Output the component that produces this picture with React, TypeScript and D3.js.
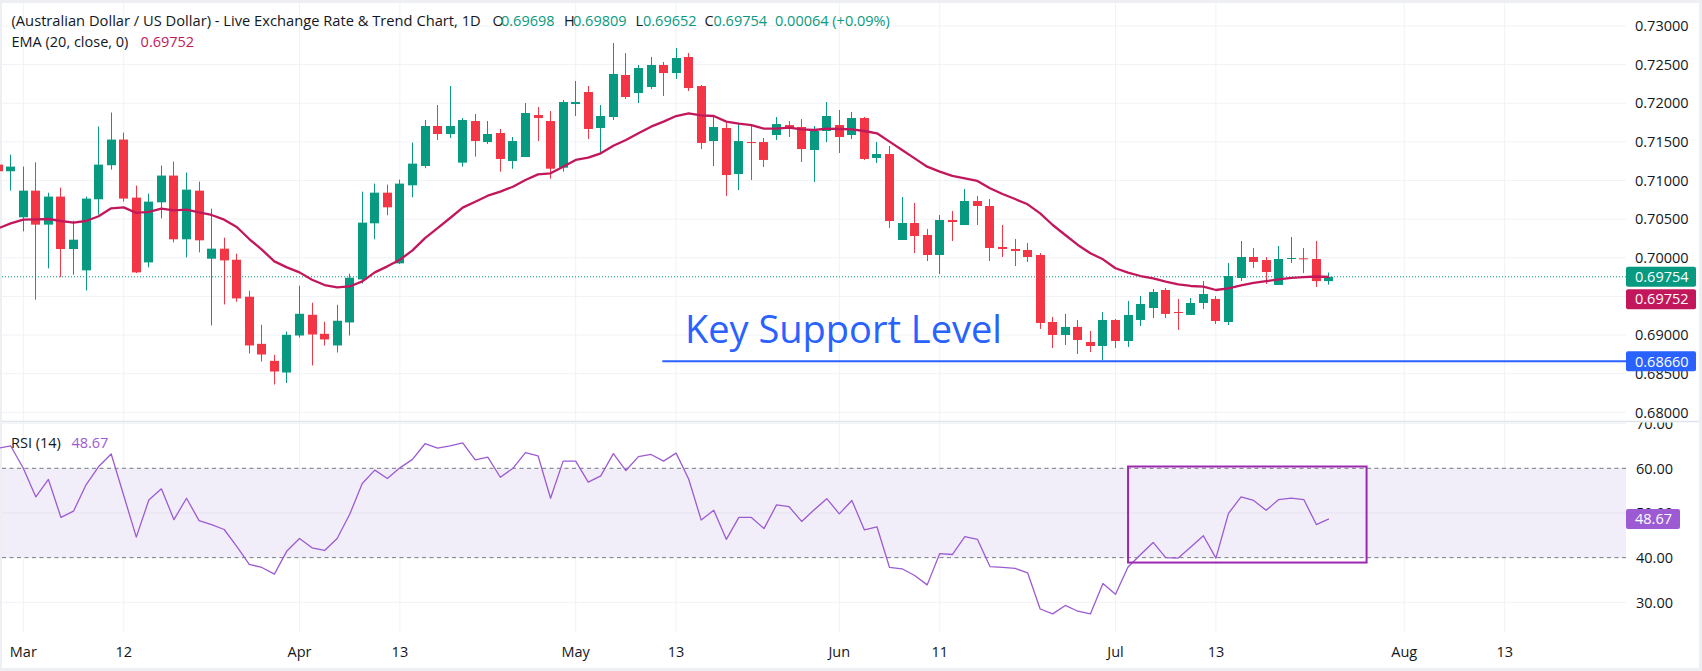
import React from 'react';
import * as d3 from 'd3';

// ---- Data (trading-day index 0 = Mar 2; first bar is index -2) ----
const START_INDEX = -2;

const opens = [
  0.71206, 0.7112, 0.70524, 0.70869, 0.70429, 0.70792, 0.70113, 0.69837, 0.70757, 0.71198,
  0.7153, 0.70779, 0.6994, 0.70718, 0.71064, 0.70239, 0.70869, 0.69988, 0.70118, 0.69975,
  0.69496, 0.68886, 0.68666, 0.68515, 0.68994, 0.69262, 0.69016, 0.68865, 0.69163, 0.6972,
  0.70446, 0.70843, 0.69928, 0.70938, 0.71188, 0.71706, 0.71602, 0.71231, 0.7177, 0.71498,
  0.71615, 0.71253, 0.71304, 0.71848, 0.7177, 0.71166, 0.7199, 0.72146, 0.7168, 0.71822,
  0.72366, 0.72133, 0.7221, 0.72495, 0.72391, 0.72599, 0.72223, 0.71511, 0.7168, 0.71084,
  0.71498, 0.71498, 0.71589, 0.71718, 0.71693, 0.71395, 0.71641, 0.71718, 0.71589, 0.71809,
  0.71292, 0.71343, 0.7023, 0.7045, 0.70295, 0.70036, 0.70489, 0.70424, 0.70735, 0.7067,
  0.7014, 0.70114, 0.70101, 0.70036, 0.69169, 0.69001, 0.69105, 0.6891, 0.68858, 0.69195,
  0.68923, 0.69195, 0.6935, 0.69583, 0.69298, 0.6926, 0.69415, 0.69467, 0.69169, 0.69738,
  0.7001, 0.69971, 0.69648, 0.69984, 0.69993, 0.69984, 0.69698,
];
const highs = [
  0.7125, 0.71336, 0.7118, 0.71236, 0.70843, 0.70908, 0.7048, 0.70792, 0.71699, 0.7188,
  0.71621, 0.70934, 0.7083, 0.71193, 0.71245, 0.71103, 0.70986, 0.70636, 0.7026, 0.70053,
  0.69573, 0.69133, 0.68744, 0.69046, 0.69638, 0.69418, 0.69172, 0.69392, 0.69794, 0.70856,
  0.7096, 0.70947, 0.71012, 0.71491, 0.71783, 0.71977, 0.72223, 0.71809, 0.71861, 0.7177,
  0.71667, 0.71563, 0.72003, 0.71951, 0.719, 0.72042, 0.72288, 0.72223, 0.71977, 0.7278,
  0.7265, 0.72495, 0.72599, 0.72534, 0.72715, 0.7265, 0.72236, 0.71848, 0.71744, 0.71744,
  0.71706, 0.7155, 0.71822, 0.7177, 0.71796, 0.71706, 0.72016, 0.71913, 0.71887, 0.71822,
  0.71499, 0.71447, 0.70787, 0.70709, 0.70373, 0.70554, 0.70606, 0.7089, 0.708, 0.70761,
  0.70424, 0.70243, 0.70191, 0.70062, 0.69234, 0.69273, 0.69195, 0.69053, 0.69298, 0.69208,
  0.69441, 0.69505, 0.69596, 0.69609, 0.69467, 0.6948, 0.697, 0.69505, 0.69933, 0.70217,
  0.70127, 0.7001, 0.70153, 0.70269, 0.70127, 0.70217, 0.69809,
];
const lows = [
  0.711, 0.70869, 0.70342, 0.69457, 0.69863, 0.6975, 0.69781, 0.69578, 0.70558, 0.71141,
  0.70727, 0.69802, 0.69876, 0.70511, 0.702, 0.70005, 0.7007, 0.69124, 0.69396, 0.69431,
  0.68761, 0.68657, 0.6836, 0.6838, 0.68968, 0.68606, 0.68865, 0.68774, 0.68994, 0.69668,
  0.70239, 0.7055, 0.69919, 0.70783, 0.7116, 0.71524, 0.7155, 0.71179, 0.71309, 0.71473,
  0.71115, 0.71153, 0.71304, 0.71511, 0.71024, 0.71115, 0.71835, 0.71537, 0.71352, 0.71783,
  0.72055, 0.72003, 0.72184, 0.72094, 0.72314, 0.72159, 0.71407, 0.71188, 0.708, 0.70877,
  0.71007, 0.71175, 0.71524, 0.71563, 0.7124, 0.70981, 0.71498, 0.71356, 0.71537, 0.71266,
  0.71227, 0.70386, 0.7023, 0.70062, 0.69958, 0.6979, 0.70217, 0.70424, 0.70424, 0.69958,
  0.7001, 0.69894, 0.69946, 0.69079, 0.68832, 0.68871, 0.68755, 0.68781, 0.68677, 0.68832,
  0.68845, 0.69117, 0.69221, 0.69221, 0.69066, 0.6926, 0.69337, 0.69143, 0.6913, 0.697,
  0.69868, 0.69661, 0.69648, 0.69933, 0.69803, 0.69622, 0.69652,
];
const closes = [
  0.7112, 0.7118, 0.70869, 0.70429, 0.70792, 0.70113, 0.70234, 0.70766, 0.71206, 0.7153,
  0.70766, 0.69811, 0.70727, 0.71064, 0.70239, 0.70882, 0.70226, 0.70118, 0.69966, 0.69474,
  0.68865, 0.68748, 0.68528, 0.69003, 0.69275, 0.69007, 0.68943, 0.69185, 0.69742, 0.70455,
  0.70843, 0.70653, 0.7096, 0.71219, 0.71706, 0.71602, 0.71706, 0.71783, 0.71511, 0.71602,
  0.71279, 0.71511, 0.71874, 0.71809, 0.71153, 0.72016, 0.72016, 0.71667, 0.71835, 0.72379,
  0.72081, 0.72456, 0.72495, 0.72391, 0.72586, 0.72197, 0.71486, 0.71693, 0.71071, 0.71511,
  0.71486, 0.71266, 0.71731, 0.7168, 0.71407, 0.71641, 0.71835, 0.71563, 0.71809, 0.71279,
  0.71343, 0.70476, 0.7045, 0.70282, 0.70036, 0.70489, 0.70463, 0.70735, 0.7067, 0.70127,
  0.70114, 0.70088, 0.7001, 0.69156, 0.69001, 0.69105, 0.68936, 0.68858, 0.69195, 0.68923,
  0.6926, 0.69402, 0.69557, 0.69273, 0.69285, 0.69415, 0.69531, 0.69182, 0.69764, 0.7001,
  0.69946, 0.69816, 0.69984, 0.69997, 0.69984, 0.69698, 0.69754,
];
const ema20 = [
  0.70381, 0.70446, 0.70493, 0.70498, 0.70502, 0.70476, 0.70455, 0.70476, 0.70537, 0.7064,
  0.70653, 0.7058, 0.70593, 0.70636, 0.70614, 0.70623, 0.70588, 0.70554, 0.70493, 0.70398,
  0.70243, 0.70105, 0.69953, 0.69876, 0.69811, 0.69716, 0.69647, 0.69616, 0.69629, 0.69694,
  0.69811, 0.69889, 0.69975, 0.70096, 0.70254, 0.70383, 0.70515, 0.70649, 0.70726, 0.70804,
  0.70856, 0.7092, 0.71007, 0.7108, 0.71093, 0.71179, 0.71266, 0.71296, 0.71352, 0.71451,
  0.71524, 0.71611, 0.71697, 0.71762, 0.71835, 0.7187, 0.71844, 0.71835, 0.71762, 0.71736,
  0.71718, 0.71671, 0.71671, 0.71684, 0.71662, 0.71654, 0.71671, 0.71667, 0.71662, 0.71641,
  0.71611, 0.71503, 0.71395, 0.71287, 0.71179, 0.71115, 0.71059, 0.71028, 0.70994, 0.70899,
  0.70826, 0.70761, 0.70692, 0.70575, 0.70424, 0.70295, 0.70166, 0.70058, 0.6998, 0.69864,
  0.69807, 0.69764, 0.69734, 0.69691, 0.69656, 0.69635, 0.69626, 0.69583, 0.69603, 0.69643,
  0.69675, 0.69697, 0.6972, 0.6974, 0.6975, 0.69758, 0.69752,
];
const rsi14 = [
  64.5, 65.0, 60.0, 53.6, 57.5, 49.0, 50.4, 56.3, 60.4, 63.2,
  53.9, 44.6, 52.9, 55.4, 48.5, 53.3, 48.3, 47.4, 46.3, 42.5,
  38.5, 37.8, 36.3, 41.5, 44.3, 42.2, 41.6, 44.3, 49.7, 56.6,
  59.6, 57.7, 60.1, 62.0, 65.5, 64.5, 65.0, 65.7, 61.9, 62.5,
  58.0, 60.0, 63.5, 62.8, 53.3, 61.6, 61.6, 56.9, 58.3, 63.3,
  59.5, 62.6, 63.1, 61.6, 63.4, 57.6, 48.4, 50.6, 44.1, 49.0,
  49.0, 46.5, 51.8, 51.4, 48.1, 50.7, 53.2, 49.8, 52.8, 46.2,
  46.9, 37.8, 37.5, 36.0, 33.9, 40.9, 40.7, 44.7, 44.1, 38.0,
  37.8, 37.6, 36.6, 28.5, 27.4, 29.3, 28.0, 27.4, 34.2, 31.8,
  37.9, 40.7, 43.4, 40.0, 39.9, 42.4, 44.9, 39.9, 49.9, 53.6,
  52.8, 50.6, 53.0, 53.3, 53.0, 47.4, 48.67,
];

const timeTickIndex = [0, 8, 22, 30, 44, 52, 65, 73, 87, 95, 110, 118];
const timeTickLabels = ['Mar', '12', 'Apr', '13', 'May', '13', 'Jun', '11', 'Jul', '13', 'Aug', '13'];
const priceTicks = [0.68, 0.685, 0.69, 0.695, 0.7, 0.705, 0.71, 0.715, 0.72, 0.725, 0.73];
const priceTickLabels = ['0.68000', '0.68500', '0.69000', '0.69500', '0.70000', '0.70500', '0.71000', '0.71500', '0.72000', '0.72500', '0.73000'];
const rsiTicks = [30, 40, 50, 60, 70];
const rsiTickLabels = ['30.00', '40.00', '50.00', '60.00', '70.00'];

const SUPPORT_LEVEL = 0.6866;
const SUPPORT_START_INDEX = 50.9;
const SUPPORT_TEXT_INDEX = 52.7;
const SUPPORT_TEXT_PRICE = 0.6890;
const RSI_BOX = { fromIndex: 88, toIndex: 107, top: 60.4, bottom: 38.9 };

const LAST = { open: '0.69698', high: '0.69809', low: '0.69652', close: '0.69754', change: '0.00064 (+0.09%)' };
const LAST_EMA = 0.69752;
const LAST_RSI = 48.67;

const FONT = "'Open Sans', 'Liberation Sans', sans-serif";
const GREEN = '#089981';
const RED = '#F23645';
const EMA_COLOR = '#C2185B';
const RSI_COLOR = '#9C5BD2';
const TEXT = '#131722';
const GRID = '#F0F2F5';

export default function App() {
  const W = 1702;
  const H = 671;
  const plotRight = 1626;
  const priceTop = 3;
  const priceBottom = 421;
  const rsiTop = 422.5;
  const rsiBottom = 632;

  const x = d3.scaleLinear().domain([0, 118]).range([23.3, 23.3 + 118 * 12.554]);
  const y = d3.scaleLinear().domain([0.68, 0.73]).range([412.3, 26]);
  const yr = d3.scaleLinear().domain([30, 60]).range([602.3, 468.3]);
  const idx = (i: number) => START_INDEX + i;

  const emaPath = d3.line<number>().x((_, i) => x(idx(i))).y((d) => y(d))(ema20) || '';
  const rsiPath = d3.line<number>().x((_, i) => x(idx(i))).y((d) => yr(d))(rsi14) || '';

  const fs = 14.5;
  const lastY = y(parseFloat(LAST.close));
  const emaLabelY = lastY + 22.5;
  const supY = y(SUPPORT_LEVEL);
  const rsiLabelY = yr(LAST_RSI);

  return (
    <div style={{ position: 'fixed', left: 0, top: 0, width: W, height: H }}>
      <svg width={W} height={H} style={{ display: 'block' }} fontFamily={FONT}>
        <defs>
          <clipPath id="pricePane">
            <rect x={0} y={priceTop} width={plotRight} height={priceBottom - priceTop} />
          </clipPath>
          <clipPath id="rsiPane">
            <rect x={0} y={rsiTop} width={plotRight} height={rsiBottom - rsiTop} />
          </clipPath>
          <clipPath id="rsiAxis">
            <rect x={plotRight} y={rsiTop} width={80} height={rsiBottom - rsiTop} />
          </clipPath>
        </defs>
        <rect x={0} y={0} width={W} height={H} fill="#EDEFF3" />
        <rect x={2} y={3} width={1697} height={665} fill="#FFFFFF" />

        {/* vertical grid */}
        {timeTickIndex.map((t, k) => (
          <g key={'vg' + k}>
            <line x1={x(t)} x2={x(t)} y1={priceTop} y2={priceBottom} stroke={GRID} strokeWidth={1} />
            <line x1={x(t)} x2={x(t)} y1={rsiTop} y2={rsiBottom} stroke={GRID} strokeWidth={1} />
          </g>
        ))}
        {/* horizontal price grid */}
        {priceTicks.map((p, k) => (
          <line key={'hg' + k} x1={2} x2={plotRight} y1={y(p)} y2={y(p)} stroke={GRID} strokeWidth={1} />
        ))}

        {/* price pane content */}
        <g clipPath="url(#pricePane)">
          <line x1={2} x2={plotRight} y1={lastY} y2={lastY} stroke={GREEN} strokeWidth={1} strokeDasharray="1,2" />
          {opens.map((o, i) => {
            const c = closes[i];
            const up = c >= o;
            const col = up ? GREEN : RED;
            const cx = x(idx(i));
            const bx = Math.round(cx - 4.5);
            const top = y(Math.max(o, c));
            const bot = y(Math.min(o, c));
            return (
              <g key={'c' + i}>
                <rect x={bx + 4} y={y(highs[i])} width={1} height={Math.max(1, y(lows[i]) - y(highs[i]))} fill={col} />
                <rect x={bx} y={top} width={9} height={Math.max(1, bot - top)} fill={col} />
              </g>
            );
          })}
          <path d={emaPath} fill="none" stroke={EMA_COLOR} strokeWidth={2.3} strokeLinejoin="round" />
          <line x1={x(SUPPORT_START_INDEX)} x2={plotRight} y1={supY} y2={supY} stroke="#2962FF" strokeWidth={2} />
          <text x={x(SUPPORT_TEXT_INDEX)} y={y(SUPPORT_TEXT_PRICE)} fontSize={38} fill="#2962FF">Key Support Level</text>
        </g>

        {/* price axis labels */}
        {priceTicks.map((p, k) => (
          <text key={'pl' + k} x={1635} y={y(p) + 5.2} fontSize={fs} fill={TEXT}>{priceTickLabels[k]}</text>
        ))}
        <rect x={1626} y={lastY - 10} width={70} height={20} rx={2} fill={GREEN} />
        <text x={1635} y={lastY + 5.2} fontSize={fs} fill="#FFFFFF">{LAST.close}</text>
        <rect x={1626} y={emaLabelY - 10} width={70} height={20} rx={2} fill={EMA_COLOR} />
        <text x={1635} y={emaLabelY + 5.2} fontSize={fs} fill="#FFFFFF">{LAST_EMA.toFixed(5)}</text>
        <rect x={1626} y={supY - 10} width={70} height={20} rx={2} fill="#2962FF" />
        <text x={1635} y={supY + 5.2} fontSize={fs} fill="#FFFFFF">{SUPPORT_LEVEL.toFixed(5)}</text>

        {/* pane separator */}
        <line x1={2} x2={1699} y1={421.5} y2={421.5} stroke="#E0E3EB" strokeWidth={1.5} />

        {/* RSI pane */}
        <g clipPath="url(#rsiPane)">
          <rect x={2} y={yr(60)} width={plotRight - 2} height={yr(40) - yr(60)} fill="#F2EEF9" />
          {rsiTicks.map((r, k) => (
            <line key={'rg' + k} x1={2} x2={plotRight} y1={yr(r)} y2={yr(r)} stroke={r === 50 ? '#E6E3EE' : GRID} strokeWidth={1} />
          ))}
          <line x1={2} x2={plotRight} y1={yr(60)} y2={yr(60)} stroke="#787B86" strokeWidth={1} strokeDasharray="4,3.5" />
          <line x1={2} x2={plotRight} y1={yr(40)} y2={yr(40)} stroke="#787B86" strokeWidth={1} strokeDasharray="4,3.5" />
          <path d={rsiPath} fill="none" stroke={RSI_COLOR} strokeWidth={1.3} strokeLinejoin="round" />
          <rect
            x={x(RSI_BOX.fromIndex)}
            y={yr(RSI_BOX.top)}
            width={x(RSI_BOX.toIndex) - x(RSI_BOX.fromIndex)}
            height={yr(RSI_BOX.bottom) - yr(RSI_BOX.top)}
            fill="none"
            stroke="#9C27B0"
            strokeWidth={2}
          />
        </g>
        <g clipPath="url(#rsiAxis)">
          {rsiTicks.map((r, k) => (
            <text key={'rl' + k} x={1636} y={yr(r) + 5.2} fontSize={fs} fill={TEXT}>{rsiTickLabels[k]}</text>
          ))}
        </g>
        <rect x={1626} y={rsiLabelY - 10} width={54} height={20} rx={2} fill={RSI_COLOR} />
        <text x={1635} y={rsiLabelY + 5.2} fontSize={fs} fill="#FFFFFF">{LAST_RSI.toFixed(2)}</text>

        {/* time axis */}
        {timeTickIndex.map((t, k) => (
          <text key={'tl' + k} x={x(t)} y={657} fontSize={fs} fill={TEXT} textAnchor="middle">{timeTickLabels[k]}</text>
        ))}

        {/* legends */}
        <text y={26.3} fontSize={fs} fill={TEXT}>
          <tspan x={11.5} fontSize={14.7}>(Australian Dollar / US Dollar) - Live Exchange Rate &amp; Trend Chart, 1D</tspan>
          <tspan x={492.5}>O</tspan>
          <tspan x={501} fill={GREEN}>{LAST.open}</tspan>
          <tspan x={564}>H</tspan>
          <tspan x={573} fill={GREEN}>{LAST.high}</tspan>
          <tspan x={635.5}>L</tspan>
          <tspan x={643} fill={GREEN}>{LAST.low}</tspan>
          <tspan x={704.5}>C</tspan>
          <tspan x={713.5} fill={GREEN}>{LAST.close}</tspan>
          <tspan x={775} fill={GREEN}>{LAST.change}</tspan>
        </text>
        <text y={47.3} fontSize={fs} fill={TEXT}>
          <tspan x={11.5}>EMA (20, close, 0)</tspan>
          <tspan x={140.6} fill={EMA_COLOR}>{LAST_EMA.toFixed(5)}</tspan>
        </text>
        <text y={448} fontSize={fs} fill={TEXT}>
          <tspan x={11}>RSI (14)</tspan>
          <tspan x={71.4} fill={RSI_COLOR}>{LAST_RSI.toFixed(2)}</tspan>
        </text>
      </svg>
    </div>
  );
}
